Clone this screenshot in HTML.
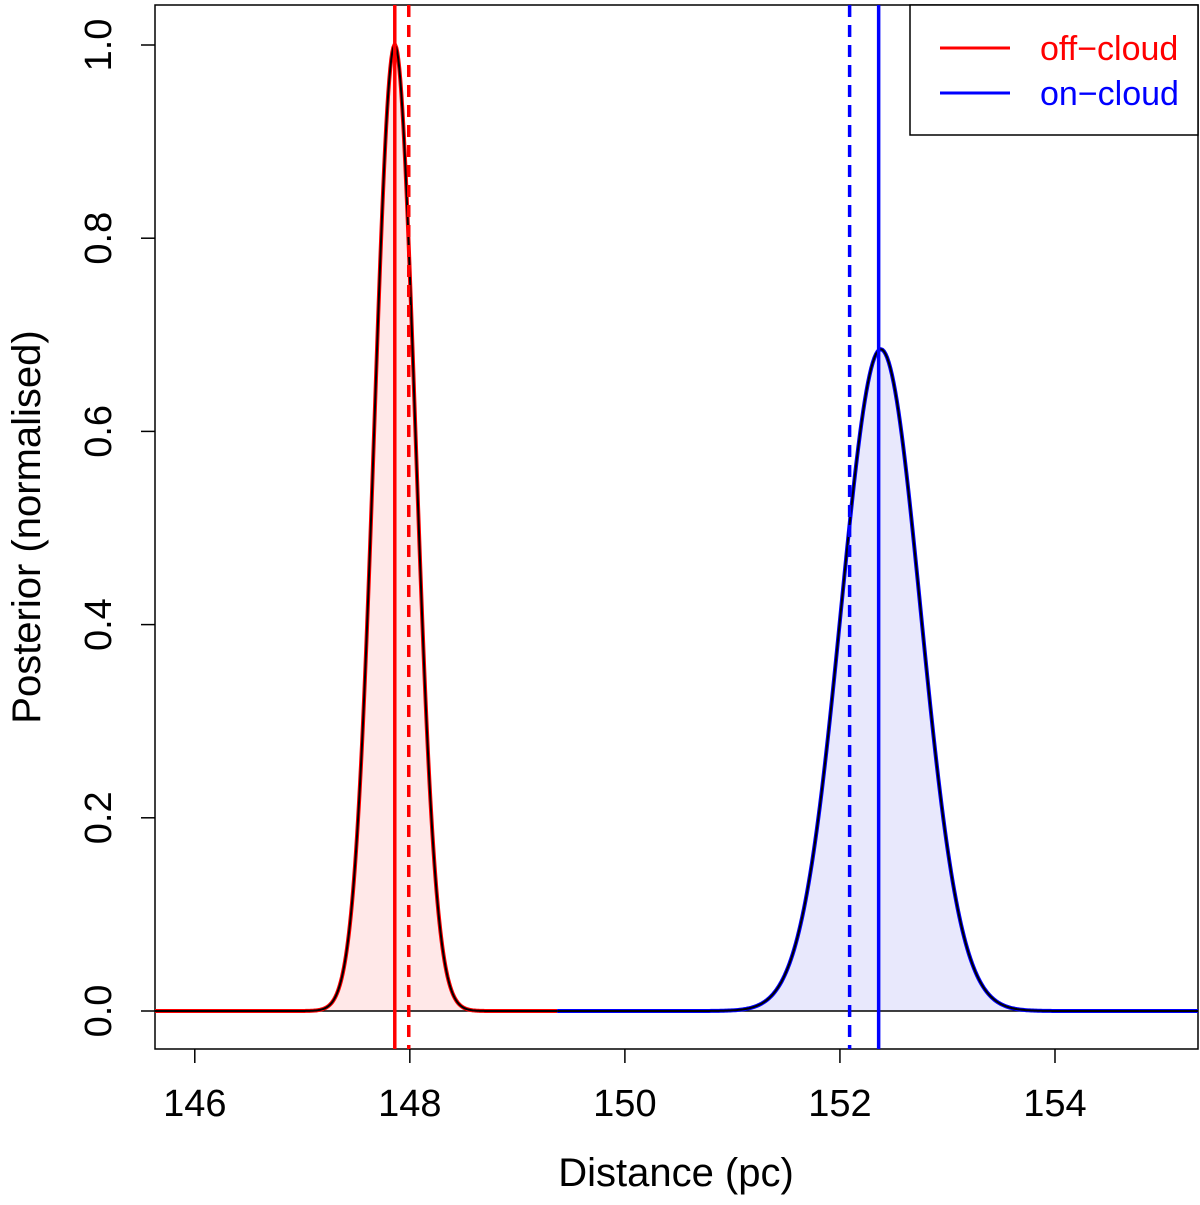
<!DOCTYPE html>
<html><head><meta charset="utf-8"><style>
html,body{margin:0;padding:0;background:#fff;}
svg{display:block;font-family:"Liberation Sans","DejaVu Sans",sans-serif;}
</style></head><body>
<svg id="chart" width="1200" height="1205" viewBox="0 0 1200 1205">
<rect x="155" y="5" width="1043" height="1044" fill="none" stroke="#000" stroke-width="1.5"/>
<g id="fills"></g>
<line id="zero" stroke="#000" stroke-width="1.5"/>
<g id="curves"></g>
<g id="vlines"></g>
<g id="xaxis"></g>
<g id="yaxis"></g>
<text x="676" y="1186" font-size="40" text-anchor="middle">Distance (pc)</text>
<text transform="translate(40,527) rotate(-90)" font-size="40" text-anchor="middle">Posterior (normalised)</text>
<g>
<rect x="910" y="5" width="288" height="130" fill="#fff" stroke="#000" stroke-width="1.5"/>
<line x1="940" y1="48" x2="1010" y2="48" stroke="#ff0000" stroke-width="3"/>
<text x="1040" y="60" font-size="34" fill="#ff0000">off−cloud</text>
<line x1="940" y1="93" x2="1010" y2="93" stroke="#0000ff" stroke-width="3"/>
<text x="1040" y="105" font-size="34" fill="#0000ff">on−cloud</text>
</g>
</svg>
<script>
const seriesNames=["off-cloud","on-cloud"];
const seriesMeans=[147.86,152.38];
const seriesSigmas=[0.19,0.37];
const seriesPeaks=[1.0,0.685];
const seriesModes=[147.86,152.36];
const seriesMedians=[147.99,152.09];
const seriesColors=["#ff0000","#0000ff"];
const seriesFills=["#ffe8e8","#e8e8fc"];
const splitValue=149.37;
const xTicks=[146,148,150,152,154];
const yTicks=[0.0,0.2,0.4,0.6,0.8,1.0];
const xMin=145.63,xMax=155.33;
const X=v=>155+(v-xMin)/(xMax-xMin)*1043;
const Y=v=>1011-v*966;
const NS="http://www.w3.org/2000/svg";
function mk(t,a,p){const e=document.createElementNS(NS,t);for(const k in a)e.setAttribute(k,a[k]);p.appendChild(e);return e;}
const z=document.getElementById('zero');
z.setAttribute('x1',155);z.setAttribute('x2',1198);z.setAttribute('y1',Y(0));z.setAttribute('y2',Y(0));
const ranges=[[xMin,splitValue],[splitValue,xMax]];
seriesNames.forEach((n,i)=>{
  const pts=[];
  for(let k=0;k<=400;k++){const v=ranges[i][0]+(ranges[i][1]-ranges[i][0])*k/400;
    const d=seriesPeaks[i]*Math.exp(-0.5*((v-seriesMeans[i])/seriesSigmas[i])**2);
    pts.push(X(v).toFixed(2)+","+Y(d).toFixed(2));}
  const f=mk('polygon',{points:X(ranges[i][0])+","+Y(0)+" "+pts.join(" ")+" "+X(ranges[i][1])+","+Y(0),fill:seriesFills[i]},document.getElementById('fills'));
  
  
  const c=mk('polyline',{points:pts.join(" "),fill:"none",stroke:seriesColors[i],"stroke-width":4},document.getElementById('curves'));
  
  
  const b=mk('polyline',{points:pts.join(" "),fill:"none",stroke:"#000","stroke-width":2},document.getElementById('curves'));
  
  
  const s=mk('line',{x1:X(seriesModes[i]),x2:X(seriesModes[i]),y1:5,y2:1049,stroke:seriesColors[i],"stroke-width":3.5},document.getElementById('vlines'));
  
  
  const d=mk('line',{x1:X(seriesMedians[i]),x2:X(seriesMedians[i]),y1:5,y2:1049,stroke:seriesColors[i],"stroke-width":3.5,"stroke-dasharray":"12,8"},document.getElementById('vlines'));
  
  
});
const xa=document.getElementById('xaxis');
xTicks.forEach(t=>{
  const l=mk('line',{x1:X(t),x2:X(t),y1:1049,y2:1063,stroke:"#000","stroke-width":1.5},xa);
  
  
  const tx=mk('text',{x:X(t),y:1116,"font-size":38,"text-anchor":"middle"},xa);tx.textContent=t;
  
  
});
const ya=document.getElementById('yaxis');
yTicks.forEach(t=>{
  const l=mk('line',{x1:141,x2:155,y1:Y(t),y2:Y(t),stroke:"#000","stroke-width":1.5},ya);
  
  
  const tx=mk('text',{transform:`translate(111,${Y(t)}) rotate(-90)`,"font-size":38,"text-anchor":"middle"},ya);tx.textContent=t.toFixed(1);
  
  
});
</script>
</body></html>
